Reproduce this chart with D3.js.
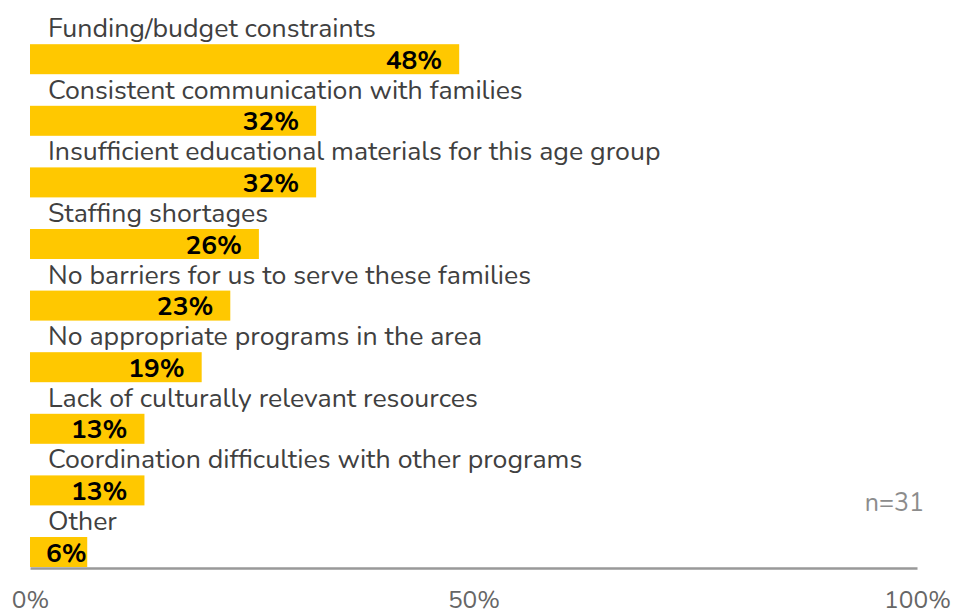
<!DOCTYPE html>
<html>
<head>
<meta charset="utf-8">
<script src="https://cdn.jsdelivr.net/npm/d3@7/dist/d3.min.js"></script>
<style>
  html, body { margin: 0; padding: 0; background: #ffffff; }
  svg { display: block; }
  text { font-family: "Nunito", "Open Sans", "Noto Sans", sans-serif; }
</style>
</head>
<body>
<svg id="chart" width="953" height="611"></svg>
<script>
// Barriers to serving families (respondent counts out of n)
const categories = [
  "Funding/budget constraints",
  "Consistent communication with families",
  "Insufficient educational materials for this age group",
  "Staffing shortages",
  "No barriers for us to serve these families",
  "No appropriate programs in the area",
  "Lack of culturally relevant resources",
  "Coordination difficulties with other programs",
  "Other"
];
const counts = [15, 10, 10, 8, 7, 6, 4, 4, 2];
const respondents = 31;
const tickValues = [0, 0.5, 1];
const tickLabels = ["0%", "50%", "100%"];

const svg = d3.select("#chart");
const plotLeft = 30, plotRight = 917, plotTop = 13.6, plotBottom = 568;

const x = d3.scaleLinear().domain([0, 1]).range([plotLeft, plotRight]);
const y = d3.scaleBand().domain(categories).range([plotTop, plotBottom]).padding(0);
const step = y.step();
const barH = 30;

const rows = categories.map((c, i) => ({ cat: c, share: counts[i] / respondents }));
const pct = d3.format(".0%");

const g = svg.append("g");

// bars
g.selectAll("rect.bar").data(rows).join("rect")
  .attr("class", "bar")
  .attr("x", x(0))
  .attr("y", d => y(d.cat) + step - barH - 1)
  .attr("width", d => x(d.share) - x(0))
  .attr("height", barH)
  .attr("fill", "#FFC800");

// category labels above each bar
g.selectAll("text.cat").data(rows).join("text")
  .attr("class", "cat")
  .attr("x", 48)
  .attr("y", d => y(d.cat) + step - barH - 8)
  .attr("font-size", 26.7)
  .attr("fill", "#404040")
  .text(d => d.cat);

// value labels inside the bar end
const vals = g.selectAll("text.val").data(rows).join("text")
  .attr("class", "val")
  .attr("y", d => y(d.cat) + step - barH - 1 + 24.5)
  .attr("font-size", 26.3)
  .attr("font-weight", "bold")
  .attr("fill", "#000000")
  .attr("text-anchor", "end")
  .text(d => pct(d.share));
vals.each(function(d) {
  const w = this.getComputedTextLength();
  const end = Math.max(x(d.share) - 17, 46 + w);
  d3.select(this).attr("x", end);
});

// axis
const axis = d3.axisBottom(x)
  .tickValues(tickValues)
  .tickFormat((d, i) => tickLabels[i])
  .tickSize(0)
  .tickPadding(22);
const ax = svg.append("g").attr("transform", `translate(0,${plotBottom})`).call(axis);
ax.select(".domain").attr("stroke", "#999999").attr("stroke-width", 2.5);
ax.selectAll(".tick text")
  .attr("dy", null)
  .attr("y", 40)
  .attr("font-size", 24.5)
  .attr("fill", "#666666")
  .style("font-family", "\"Nunito\", \"Open Sans\", \"Noto Sans\", sans-serif");

// sample size note
svg.append("text")
  .attr("x", 924)
  .attr("y", 511)
  .attr("text-anchor", "end")
  .attr("font-size", 25)
  .attr("fill", "#8c8c8c")
  .text("n=" + respondents);
</script>
</body>
</html>
